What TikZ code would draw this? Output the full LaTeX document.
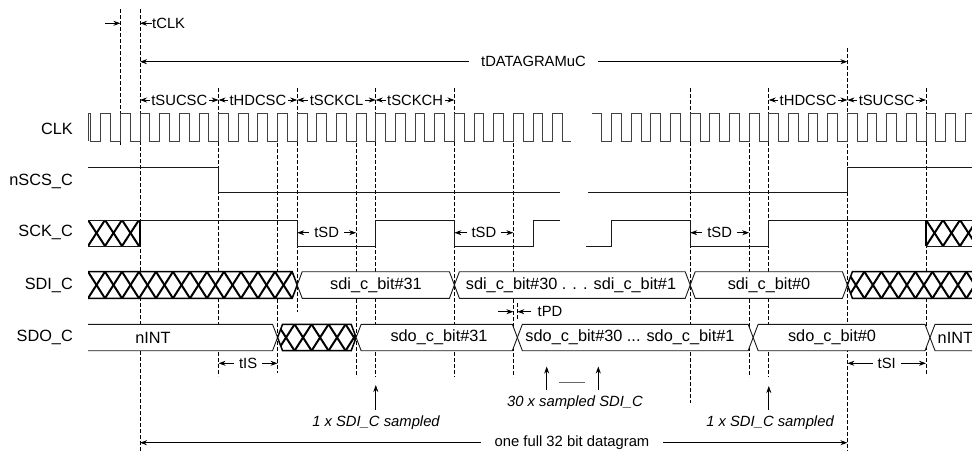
\documentclass[tikz,border=0pt]{standalone}
\usepackage{fontspec}
\setmainfont{Liberation Sans}
\usetikzlibrary{arrows.meta}
\newcommand{\hrow}[4]{% start, count, top, bottom
  \foreach \i in {0,...,#2} {
    \draw[hatch] ({#1+17*\i},#3) -- ({#1+17*\i+17},#4);
    \draw[hatch] ({#1+17*\i+17},#3) -- ({#1+17*\i},#4);
  }}
\newcommand{\busseg}[5]{% c1, c2, top, bottom, mid
  \draw[bus] (#1,#5) -- ({#1+5},#3) -- ({#2-5},#3) -- (#2,#5) -- ({#2-5},#4) -- ({#1+5},#4) -- cycle;}
\begin{document}
\begin{tikzpicture}[x=1pt,y=-1pt,
  clk/.style={line width=0.9pt, draw=black!75},
  sig/.style={line width=0.9pt, draw=black!90},
  dsh/.style={line width=0.7pt, dash pattern=on 3.5pt off 2.5pt, draw=black},
  bus/.style={line width=0.9pt, draw=black!90, fill=white},
  hatch/.style={line width=2pt, draw=black},
  hedge/.style={line width=1.5pt, draw=black},
  arr/.style={line width=0.8pt, -{Stealth[length=7pt,width=5pt]}},
  dim/.style={line width=0.8pt, {Stealth[length=7pt,width=5pt]}-{Stealth[length=7pt,width=5pt]}},
  sname/.style={anchor=east, font=\fontsize{16.3}{19}\selectfont, inner sep=0pt},
  btxt/.style={font=\fontsize{16.3}{19}\selectfont, inner sep=0pt},
  atxt/.style={font=\fontsize{14.8}{17}\selectfont, inner sep=1pt},
  wtxt/.style={atxt, fill=white, inner xsep=1.5pt},
  itxt/.style={font=\fontsize{14.8}{17}\selectfont\itshape, inner sep=1pt},
]
\useasboundingbox (0,0) rectangle (972,451);
\clip (0,0) rectangle (972,451);

% ---------- dashed reference lines ----------
\foreach \x/\a/\b in {140/9/451, 120.35/9/146, 218.6/88/376, 277.55/143/373,
  297.2/88/312, 356.15/143/377, 375.8/88/377, 454.4/88/377, 513.35/143/377,
  517.35/303/320, 690.2/88/403, 749.15/143/377, 768.8/88/377, 847.4/48/451, 926/88/375}
  \draw[dsh] (\x,\a) -- (\x,\b);

% ---------- signal names ----------
\node[sname] (nclk) at (73,129) {CLK};
\node[sname] (nscs) at (73,181) {nSCS\_C};
\node[sname] (nsck) at (73,232) {SCK\_C};
\node[sname] (nsdi) at (73,285) {SDI\_C};
\node[sname] (nsdo) at (73,337) {SDO\_C};

% ---------- CLK ----------
\draw[clk] (88.5,141) -- (88.5,113.5) -- (90.875,113.5) -- (90.875,141)
  \foreach \k in {-2,...,21} { -- ({140+\k*19.65},141) -- ({140+\k*19.65},113.5)
     -- ({140+(\k+0.5)*19.65},113.5) -- ({140+(\k+0.5)*19.65},141) } -- (571,141);
\draw[clk] (591.95,113.5) -- (601.775,113.5) -- (601.775,141)
  \foreach \k in {24,...,42} { -- ({140+\k*19.65},141) -- ({140+\k*19.65},113.5)
     -- ({140+(\k+0.5)*19.65},113.5) -- ({140+(\k+0.5)*19.65},141) };

% ---------- nSCS_C ----------
\draw[sig] (88,167.3) -- (218.6,167.3) -- (218.6,192.7) -- (560,192.7);
\draw[sig] (588,192.7) -- (847.4,192.7) -- (847.4,167.3) -- (975,167.3);

% ---------- SCK_C ----------
\begin{scope}
  \clip (88,220) rectangle (140,246);
  \hrow{88}{3}{220}{246}
\end{scope}
\draw[sig] (88,220) -- (140,220);
\draw[sig] (88,246) -- (140,246);
\draw[hedge] (140,220) -- (140,246);
\draw[sig] (140,220) -- (297.2,220) -- (297.2,246) -- (375.8,246) -- (375.8,220)
  -- (454.4,220) -- (454.4,246) -- (533,246) -- (533,220) -- (560,220);
\draw[sig] (586,246) -- (611.6,246) -- (611.6,220) -- (690.2,220) -- (690.2,246)
  -- (768.8,246) -- (768.8,220) -- (975,220);
\begin{scope}
  \clip (926,220) rectangle (975,246);
  \hrow{926}{3}{220}{246}
\end{scope}
\draw[sig] (926,246) -- (975,246);
\draw[hedge] (926,220) -- (926,246);

% ---------- SDI_C ----------
\fill[white] (88,271.7) -- (292.2,271.7) -- (297.2,285) -- (292.2,298.3) -- (88,298.3) -- cycle;
\begin{scope}
  \clip (88,271.7) -- (292.2,271.7) -- (297.2,285) -- (292.2,298.3) -- (88,298.3) -- cycle;
  \hrow{88}{12}{271.7}{298.3}
\end{scope}
\draw[hedge] (88,271.7) -- (292.2,271.7) -- (297.2,285) -- (292.2,298.3) -- (88,298.3);
\busseg{297.2}{454.4}{271.7}{298.3}{285}
\busseg{454.4}{690.2}{271.7}{298.3}{285}
\busseg{690.2}{847.4}{271.7}{298.3}{285}
\fill[white] (847.4,285) -- (852.4,271.7) -- (975,271.7) -- (975,298.3) -- (852.4,298.3) -- cycle;
\begin{scope}
  \clip (847.4,285) -- (852.4,271.7) -- (975,271.7) -- (975,298.3) -- (852.4,298.3) -- cycle;
  \hrow{847.4}{8}{271.7}{298.3}
\end{scope}
\draw[hedge] (975,271.7) -- (852.4,271.7) -- (847.4,285) -- (852.4,298.3) -- (975,298.3);
\node[btxt] (b31) at (376,285) {sdi\_c\_bit\#31};
\node[btxt] (b30) at (571,285) {sdi\_c\_bit\#30 . . . sdi\_c\_bit\#1};
\node[btxt] (b0) at (769,285) {sdi\_c\_bit\#0};

% ---------- SDO_C ----------
\draw[bus] (88,324.3) -- (272.55,324.3) -- (277.55,337.5) -- (272.55,350.7) -- (88,350.7);
\fill[white] (277.55,337.5) -- (282.55,324.3) -- (351.15,324.3) -- (356.15,337.5) -- (351.15,350.7) -- (282.55,350.7) -- cycle;
\begin{scope}
  \clip (277.55,337.5) -- (282.55,324.3) -- (351.15,324.3) -- (356.15,337.5) -- (351.15,350.7) -- (282.55,350.7) -- cycle;
  \hrow{277.55}{5}{324.3}{350.7}
\end{scope}
\draw[hedge] (277.55,337.5) -- (282.55,324.3) -- (351.15,324.3) -- (356.15,337.5) -- (351.15,350.7) -- (282.55,350.7) -- cycle;
\busseg{356.15}{517.35}{324.3}{350.7}{337.5}
\busseg{517.35}{753.15}{324.3}{350.7}{337.5}
\busseg{753.15}{930}{324.3}{350.7}{337.5}
\draw[bus] (975,324.3) -- (935,324.3) -- (930,337.5) -- (935,350.7) -- (975,350.7);
\node[btxt] (o1) at (153,337.5) {nINT};
\node[btxt] (o31) at (439,337.5) {sdo\_c\_bit\#31};
\node[btxt] (o30) at (630,337.5) {sdo\_c\_bit\#30 ... sdo\_c\_bit\#1};
\node[btxt] (o0) at (832,337.5) {sdo\_c\_bit\#0};
\node[btxt, anchor=west] (o2) at (937.5,337.5) {nINT};

% ---------- tCLK ----------
\coordinate (kA) at (105,23.3);
\coordinate (kB) at (120.35,23.3);
\coordinate (kC) at (140,23.3);
\draw[arr] (kA) -- (kB);
\node[atxt, anchor=west, inner sep=0pt] (tclk) at (152,23.3) {tCLK};
\draw[arr] (tclk.west) -- (kC);

% ---------- tDATAGRAMuC ----------
\coordinate (dgL) at (140,61.7);
\coordinate (dgR) at (847.4,61.7);
\draw[dim] (dgL) -- (dgR);
\node[atxt, fill=white, inner xsep=12pt] (dg) at (533.5,61.7) {tDATAGRAMuC};

% ---------- setup / hold row ----------
\coordinate (r1) at (140,100);
\coordinate (r2) at (218.6,100);
\coordinate (r3) at (297.2,100);
\coordinate (r4) at (375.8,100);
\coordinate (r5) at (454.4,100);
\coordinate (r6) at (768.8,100);
\coordinate (r7) at (847.4,100);
\coordinate (r8) at (926,100);
\draw[dim] (r1) -- node[wtxt] (l1) {tSUCSC} (r2);
\draw[dim] (r2) -- node[wtxt] (l2) {tHDCSC} (r3);
\draw[dim] (r3) -- node[wtxt] (l3) {tSCKCL} (r4);
\draw[dim] (r4) -- node[wtxt] (l4) {tSCKCH} (r5);
\draw[dim] (r6) -- node[wtxt] (l6) {tHDCSC} (r7);
\draw[dim] (r7) -- node[wtxt] (l7) {tSUCSC} (r8);

% ---------- tSD ----------
\coordinate (sd1a) at (297.2,232.7);
\coordinate (sd1b) at (356.15,232.7);
\coordinate (sd2a) at (454.4,232.7);
\coordinate (sd2b) at (513.35,232.7);
\coordinate (sd3a) at (690.2,232.7);
\coordinate (sd3b) at (749.15,232.7);
\draw[dim] (sd1a) -- node[wtxt, inner xsep=5pt] (sdl1) {tSD} (sd1b);
\draw[dim] (sd2a) -- node[wtxt, inner xsep=5pt] (sdl2) {tSD} (sd2b);
\draw[dim] (sd3a) -- node[wtxt, inner xsep=5pt] (sdl3) {tSD} (sd3b);

% ---------- tPD ----------
\coordinate (pdA) at (498,311.7);
\coordinate (pdB) at (513.35,311.7);
\coordinate (pdC) at (517.35,311.7);
\coordinate (pdD) at (531,311.7);
\draw[arr] (pdA) -- (pdB);
\draw[arr] (pdD) -- (pdC);
\node[atxt, anchor=west, inner sep=0pt] (tpd) at (537.5,311.7) {tPD};

% ---------- tIS / tSI ----------
\coordinate (isA) at (218.6,363.3);
\coordinate (isB) at (277.55,363.3);
\coordinate (siA) at (847.4,363.3);
\coordinate (siB) at (926,363.3);
\draw[dim] (isA) -- node[wtxt, inner xsep=5pt] (tis) {tIS} (isB);
\draw[dim] (siA) -- node[wtxt, inner xsep=5pt] (tsi) {tSI} (siB);

% ---------- sampling annotations ----------
\node[itxt] (smp1) at (376,423) {1 x SDI\_C sampled};
\coordinate (smp1a) at (375.8,410);
\coordinate (smp1b) at (375.8,385);
\draw[arr] (smp1a) -- (smp1b);
\node[itxt] (smp2) at (770,423) {1 x SDI\_C sampled};
\coordinate (smp2a) at (768.8,410);
\coordinate (smp2b) at (768.8,386);
\draw[arr] (smp2a) -- (smp2b);
\node[itxt] (smp30) at (575,403) {30 x sampled SDI\_C};
\coordinate (s3a) at (546.7,390);
\coordinate (s3b) at (546.7,366.5);
\coordinate (s3c) at (598.3,390);
\coordinate (s3d) at (598.3,366.5);
\draw[arr] (s3a) -- (s3b);
\draw[arr] (s3c) -- (s3d);
\coordinate (s3e) at (559,382.7);
\coordinate (s3f) at (585,382.7);
\draw[line width=0.6pt, black!60] (s3e) -- (s3f);

% ---------- one full datagram ----------
\coordinate (ofL) at (140,442.7);
\coordinate (ofR) at (847.4,442.7);
\draw[dim] (ofL) -- (ofR);
\node[atxt, fill=white, inner xsep=14pt] (of) at (572,442.7) {one full 32 bit datagram};
\end{tikzpicture}
\end{document}
